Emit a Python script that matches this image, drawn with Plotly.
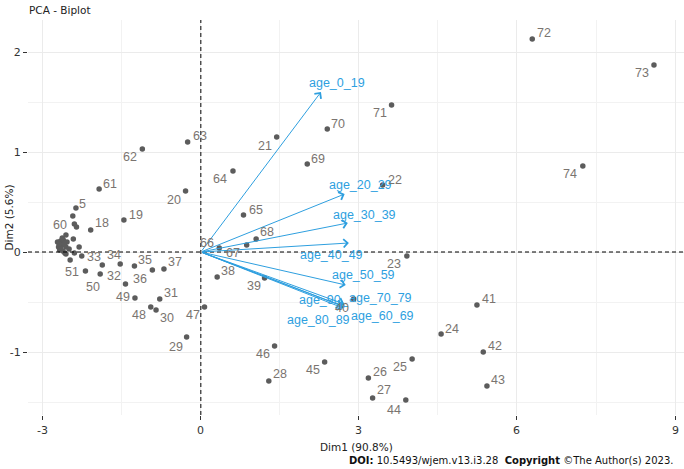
import plotly.graph_objects as go

# ---------------- data ----------------
obs_id = [1, 2, 3, 4, 6, 7, 8, 9, 10, 11, 12, 13, 14, 15, 16, 17, 52, 53, 54, 55, 56, 57, 58, 59,
          5, 18, 19, 20, 21, 22, 23, 24, 25, 26, 27, 28, 29, 30, 31, 32, 33, 34, 35, 36, 37, 38, 39,
          40, 41, 42, 43, 44, 45, 46, 47, 48, 49, 50, 51, 60, 61, 62, 63, 64, 65, 66, 67, 68, 69, 70,
          71, 72, 73, 74]
dim1 = [-2.72, -2.66, -2.61, -2.54, -2.43, -2.40, -2.36, -2.42, -2.70, -2.64, -2.56, -2.68, -2.62,
        -2.56, -2.31, -2.40, -1.87, -1.43, -2.66, -2.59, -2.69, -2.58, -2.63, -2.50,
        -2.37, -2.09, -1.46, -0.29, 1.44, 3.45, 3.91, 4.56, 4.01, 3.18, 3.26, 1.29, -0.27, -0.85,
        -0.78, -1.91, -2.26, -1.53, -1.26, -0.92, -0.70, 0.31, 1.21,
        2.90, 5.24, 5.36, 5.43, 3.89, 2.35, 1.40, 0.07, -0.95, -1.25, -2.19, -2.48, -2.56, -1.93,
        -1.11, -0.25, 0.61, 0.81, 0.35, 0.87, 1.05, 2.02, 2.40,
        3.62, 6.29, 8.60, 7.25]
dim2 = [0.10, 0.11, 0.12, 0.10, 0.36, 0.28, 0.25, 0.13, 0.05, 0.07, 0.05, 0.02, 0.01,
        -0.02, 0.05, -0.01, -0.13, -0.32, 0.04, 0.08, 0.08, -0.01, 0.14, 0.03,
        0.44, 0.22, 0.32, 0.61, 1.15, 0.67, -0.04, -0.82, -1.07, -1.26, -1.46, -1.29, -0.85, -0.58,
        -0.47, -0.22, -0.04, -0.12, -0.14, -0.18, -0.17, -0.25, -0.26,
        -0.47, -0.53, -1.00, -1.34, -1.48, -1.10, -0.94, -0.55, -0.55, -0.46, -0.19, -0.08, 0.17, 0.63,
        1.03, 1.10, 0.81, 0.37, 0.04, 0.07, 0.13, 0.88, 1.23,
        1.47, 2.13, 1.87, 0.86]
unlabeled_ids = [1, 2, 3, 4, 6, 7, 8, 9, 10, 11, 12, 13, 14, 15, 16, 17, 52, 53, 54, 55, 56, 57, 58, 59]

var_names = ["age_0_19", "age_20_29", "age_30_39", "age_40_49", "age_50_59",
             "age_60_69", "age_70_79", "age_80_89", "age_90_"]
var_dim1 = [2.28, 2.73, 2.79, 2.81, 2.75, 2.74, 2.72, 2.70, 2.68]
var_dim2 = [1.60, 0.58, 0.29, 0.09, -0.33, -0.55, -0.52, -0.56, -0.54]

x_ticks = [-3, 0, 3, 6, 9]
y_ticks = [-1, 0, 1, 2]

# ---------------- style ----------------
X_RANGE = [-3.28, 9.17]
Y_RANGE = [-1.63, 2.32]

# label offsets (screen px, right / down)
ind_offset = {
    5: (7, -4), 18: (11, -7), 19: (12, -5), 20: (-12, 9), 21: (-12, 9), 22: (12, -5),
    23: (-13, 8), 24: (11, -5), 25: (-12, 8), 26: (12, -6), 27: (11, -8), 28: (11, -7),
    29: (-11, 10), 30: (11, 8), 31: (11, -6), 32: (14, 2), 33: (12, 1), 34: (-6, -9),
    35: (11, -6), 36: (-12, 9), 37: (11, -7), 38: (11, -6), 39: (-11, 8), 40: (-12, 9),
    41: (12, -6), 42: (12, -6), 43: (11, -6), 44: (-12, 10), 45: (-12, 8), 46: (-12, 8),
    47: (-12, 8), 48: (-12, 8), 49: (-12, -1), 50: (8, 16), 51: (2, 12), 60: (-6, -10),
    61: (11, -5), 62: (-12, 8), 63: (12, -6), 64: (-13, 8), 65: (12, -5), 66: (-12, -5),
    67: (-14, 8), 68: (11, -7), 69: (11, -5), 70: (11, -5), 71: (-12, 8), 72: (12, -6),
    73: (-12, 8), 74: (-13, 8),
}
var_offset = {
    "age_0_19": (16, -9), "age_20_29": (16, -9), "age_30_39": (17, -8),
    "age_40_49": (-17, 12), "age_50_59": (18, -10), "age_60_69": (37, 9),
    "age_70_79": (36, -6), "age_80_89": (-25, 12), "age_90_": (-18, -6),
}

VAR_COL = "#2E9FDF"
IND_COL = "#5c5c5c"
LAB_COL = "#7a7470"
FONT_LAB = "Liberation Sans"
FONT_AX = "DejaVu Sans"

fig = go.Figure()

fig.add_trace(go.Scatter(
    x=dim1, y=dim2, mode="markers",
    marker=dict(size=5.5, color=IND_COL),
    hoverinfo="skip", showlegend=False,
))

annotations = []
# variable arrows
for name, vx, vy in zip(var_names, var_dim1, var_dim2):
    annotations.append(dict(
        x=vx, y=vy, ax=0, ay=0, xref="x", yref="y", axref="x", ayref="y",
        showarrow=True, arrowhead=4, arrowsize=1.6, arrowwidth=1, arrowcolor=VAR_COL, text="",
    ))
for name, vx, vy in zip(var_names, var_dim1, var_dim2):
    dx, dy = var_offset[name]
    annotations.append(dict(
        x=vx, y=vy, xref="x", yref="y", text=name, showarrow=False,
        xshift=dx, yshift=-dy, font=dict(family=FONT_LAB, size=12.5, color=VAR_COL),
    ))
# individual labels
for i, px, py in zip(obs_id, dim1, dim2):
    if i in unlabeled_ids:
        continue
    dx, dy = ind_offset.get(i, (10, -6))
    annotations.append(dict(
        x=px, y=py, xref="x", yref="y", text=str(i), showarrow=False,
        xshift=dx, yshift=-dy, font=dict(family=FONT_LAB, size=12.5, color=LAB_COL),
    ))

# x tick labels, placed on the paper from the axis range so the edge one is kept
for v in x_ticks:
    frac = (v - X_RANGE[0]) / (X_RANGE[1] - X_RANGE[0])
    annotations.append(dict(
        x=frac, y=0, xref="paper", yref="paper", text=str(v), showarrow=False,
        xanchor="center", yanchor="middle", yshift=-15,
        font=dict(family=FONT_AX, size=11, color="#333"),
    ))

# titles
annotations.append(dict(text="PCA - Biplot", xref="paper", yref="paper", x=0, y=1,
                        xanchor="left", yanchor="middle", xshift=-1, yshift=10, showarrow=False,
                        font=dict(family=FONT_AX, size=10.5, color="#222")))
annotations.append(dict(text="Dim1 (90.8%)", xref="paper", yref="paper", x=0.5, y=0,
                        xanchor="center", yanchor="middle", yshift=-32, showarrow=False,
                        font=dict(family=FONT_AX, size=10.5, color="#222")))
annotations.append(dict(text="Dim2 (5.6%)", xref="paper", yref="paper", x=0, y=0.5,
                        xanchor="center", yanchor="middle", xshift=-20, textangle=-90,
                        showarrow=False, font=dict(family=FONT_AX, size=10.5, color="#222")))
annotations.append(dict(text="<b>DOI:</b> 10.5493/wjem.v13.i3.28  <b>Copyright</b> ©The Author(s) 2023.",
                        xref="paper", yref="paper", x=1, y=0, xanchor="right", yanchor="middle",
                        xshift=-9, yshift=-45, showarrow=False,
                        font=dict(family=FONT_AX, size=10, color="#111")))

shapes = [
    dict(type="line", xref="x", yref="paper", x0=0, x1=0, y0=0, y1=1,
         line=dict(color="black", width=1, dash="4px,3px")),
    dict(type="line", xref="paper", yref="y", x0=0, x1=1, y0=0, y1=0,
         line=dict(color="black", width=1, dash="4px,3px")),
]

fig.update_layout(
    width=684, height=469,
    margin=dict(l=28, r=0, t=20, b=54, autoexpand=False),
    plot_bgcolor="white", paper_bgcolor="white",
    annotations=annotations, shapes=shapes,
    xaxis=dict(range=X_RANGE, tickvals=x_ticks, showticklabels=False,
               showgrid=True, gridcolor="#ebebeb", gridwidth=1, zeroline=False, automargin=False,
               ticks="outside", ticklen=4, tickcolor="#333", tickwidth=1,
               minor=dict(dtick=1.5, tick0=0, showgrid=True, gridcolor="#f2f2f2", gridwidth=1),
               showline=False),
    yaxis=dict(range=Y_RANGE, tickvals=y_ticks, ticktext=[str(v) for v in y_ticks],
               showgrid=True, gridcolor="#ebebeb", gridwidth=1, zeroline=False, automargin=False,
               ticks="outside", ticklen=4, tickcolor="#333", tickwidth=1,
               tickfont=dict(family=FONT_AX, size=11, color="#333"),
               minor=dict(dtick=0.5, tick0=0, showgrid=True, gridcolor="#f2f2f2", gridwidth=1),
               showline=False),
)

fig.write_html("out.html", config={"displayModeBar": False},
               post_script="document.body.style.margin='0px';document.body.style.overflow='hidden';")
